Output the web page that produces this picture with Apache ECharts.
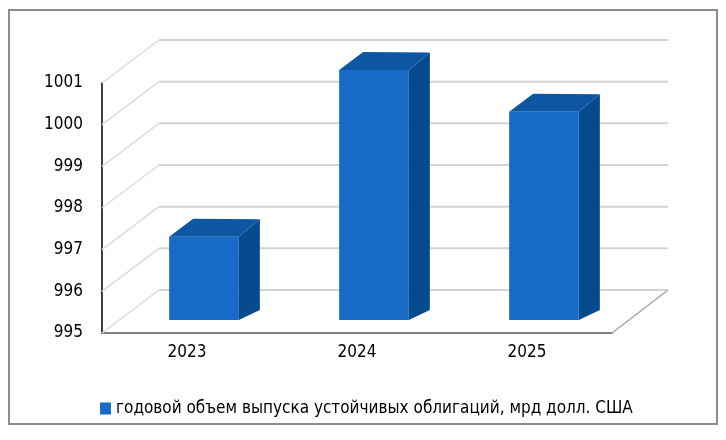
<!DOCTYPE html>
<html>
<head>
<meta charset="utf-8">
<script src="https://cdn.jsdelivr.net/npm/echarts@6/dist/echarts.min.js"></script>
<style>
html,body{margin:0;padding:0;background:#fff;}
#chart{width:726px;height:440px;}
</style>
</head>
<body>
<div id="chart"></div>
<script>
const categories = ['2023', '2024', '2025'];
const values = [997, 1001, 1000];
const yTicks = [995, 996, 997, 998, 999, 1000, 1001];
const seriesName = 'годовой объем выпуска устойчивых облигаций, мрд долл. США';

const FONT = '"Liberation Sans Narrow", "DejaVu Sans Condensed", "Liberation Sans", sans-serif';
const DEPTH_X = 57, DEPTH_Y = -43;

const chart = echarts.init(document.getElementById('chart'), null, {renderer: 'canvas'});

const option = {
  backgroundColor: '#fff',
  animation: false,
  graphic: [{
    type: 'rect',
    shape: {x: 9, y: 10, width: 708, height: 414},
    style: {fill: 'none', stroke: '#8c8c8c', lineWidth: 2},
    z: 0
  }],
  grid: {left: 102, right: 114, top: 83, bottom: 107},
  legend: {
    data: [seriesName],
    left: 95,
    top: 395,
    icon: 'rect',
    itemWidth: 11,
    itemHeight: 12,
    itemGap: 5,
    textStyle: {fontFamily: FONT, fontSize: 17, color: '#000'}
  },
  xAxis: {
    type: 'category',
    data: categories,
    axisLine: {show: true, lineStyle: {color: '#808080', width: 2}},
    axisTick: {show: false},
    axisLabel: {color: '#000', fontSize: 17, fontFamily: FONT, margin: 11},
    splitLine: {show: false}
  },
  yAxis: {
    type: 'value',
    min: yTicks[0],
    max: yTicks[yTicks.length - 1],
    interval: 1,
    axisLine: {show: true, lineStyle: {color: '#404040', width: 2}},
    axisTick: {show: false},
    axisLabel: {color: '#000', fontSize: 17, fontFamily: FONT, margin: 19,
      formatter: function (v) { return String(v); }},
    splitLine: {show: false}
  },
  series: [
    {
      type: 'custom',
      name: 'walls',
      silent: true,
      z: 1,
      data: yTicks.map(v => [0, v]),
      renderItem: function (params, api) {
        const v = api.value(1);
        const p = api.coord([0, v]);
        const cs = params.coordSys;
        const x0 = cs.x, x1 = cs.x + cs.width, y = p[1];
        const children = [
          {type: 'line', shape: {x1: x0, y1: y, x2: x0 + DEPTH_X, y2: y + DEPTH_Y},
           style: {stroke: '#dcdcdc', lineWidth: 1.5}},
          {type: 'line', shape: {x1: x0 + DEPTH_X, y1: y + DEPTH_Y, x2: x1 + DEPTH_X - 1, y2: y + DEPTH_Y},
           style: {stroke: '#d4d4d4', lineWidth: 2}}
        ];
        if (v === yTicks[0]) {
          children.push({type: 'line', shape: {x1: x1, y1: y, x2: x1 + DEPTH_X - 1, y2: y + DEPTH_Y},
            style: {stroke: '#a6a6a6', lineWidth: 1.5}});
        }
        return {type: 'group', children: children};
      }
    },
    {
      type: 'custom',
      name: seriesName,
      z: 3,
      itemStyle: {color: '#176AC8'},
      data: values.map((v, i) => [i, v]),
      renderItem: function (params, api) {
        const idx = api.value(0), v = api.value(1);
        const top = api.coord([idx, v]);
        const base = api.coord([idx, yTicks[0]]);
        const band = api.size([1, 0])[0];
        const w = band * 0.41;
        const sx = 17, sy = -13;
        const L = top[0] + sx - w / 2, R = L + w;
        const T = top[1] + sy, B = base[1] + sy;
        return {
          type: 'group',
          children: [
            {type: 'polygon', shape: {points: [[R, T], [R + 21, T - 17.5], [R + 21, B - 10], [R, B]]},
             style: {fill: '#064A8E'}},
            {type: 'polygon', shape: {points: [[L, T], [L + 24, T - 18], [R + 21, T - 17.5], [R, T]]},
             style: {fill: '#0C56A2'}},
            {type: 'rect', shape: {x: L, y: T, width: w, height: B - T},
             style: {fill: '#176AC8'}}
          ]
        };
      }
    }
  ]
};
chart.setOption(option);
</script>
</body>
</html>
